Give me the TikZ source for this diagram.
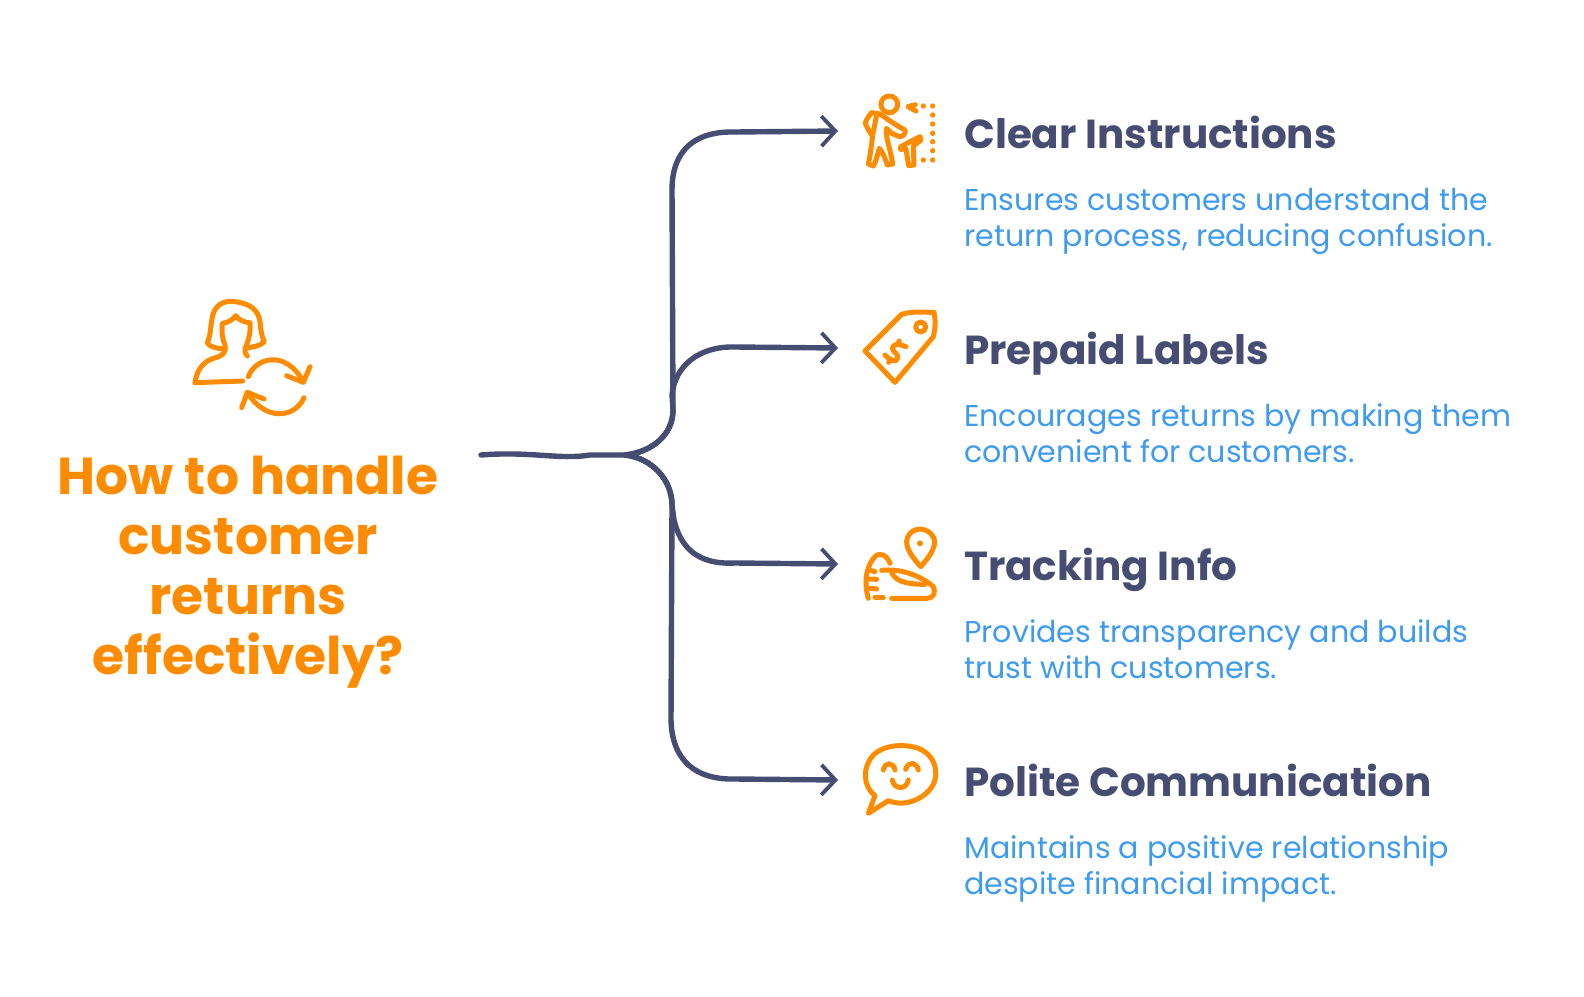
\documentclass[tikz,border=0pt]{standalone}
\usepackage{fontspec}
\setmainfont{Poppins}
\usetikzlibrary{positioning,arrows.meta}
\definecolor{roast}{HTML}{FF8C00}
\definecolor{ink}{HTML}{474C72}
\definecolor{sky}{HTML}{3F9BF0}
\tikzset{
    flow/.style={draw=ink, line width=5.4pt, line cap=round, -{Straight Barb[length=14pt,width=30pt,line width=3.8pt]}},
    icon/.style={draw=roast, line width=5pt, line cap=round, line join=round},
    dots/.style={fill=roast, draw=none},
    title/.style={text=roast, font=\fontsize{52}{60}\selectfont\bfseries, align=center},
    headline/.style={text=ink, font=\fontsize{40.5}{44}\selectfont\bfseries, anchor=base west, inner sep=0pt},
    details/.style={text=sky, font=\fontsize{30.1}{36}\selectfont, align=left, inner sep=0pt},
}
\begin{document}
\begin{tikzpicture}[x=1pt, y=-1pt]
\useasboundingbox (0,0) rectangle (1584,996);

\node[title] (question) at (248,572) {How to handle\\customer\\returns\\effectively?};

\node[headline] (clear) at (964,148) {Clear Instructions};
\node[details, below=98pt of clear.base west, anchor=base west] (cleartext) {Ensures customers understand the\\return process, reducing confusion.};
\node[headline] (prepaid) at (964,364) {Prepaid Labels};
\node[details, below=98pt of prepaid.base west, anchor=base west] (prepaidtext) {Encourages returns by making them\\convenient for customers.};
\node[headline] (tracking) at (964,580) {Tracking Info};
\node[details, below=98pt of tracking.base west, anchor=base west] (trackingtext) {Provides transparency and builds\\trust with customers.};
\node[headline] (polite) at (964,796) {Polite Communication};
\node[details, below=98pt of polite.base west, anchor=base west] (politetext) {Maintains a positive relationship\\despite financial impact.};

\coordinate (root) at (481,455);
\coordinate (hub) at (625,455);
\coordinate (tipclear) at (838,131);
\coordinate (tipprepaid) at (838,348);
\coordinate (tiptracking) at (838,564);
\coordinate (tippolite) at (838,780);

\draw[flow] (root) .. controls (530,451) and (560,460) .. (590,455) -- (hub)
    .. controls (652,452) and (673,435) .. (673,410) -- (672,190)
    .. controls (672,150) and (695,131) .. (735,132) -- (tipclear);
\draw[flow] (hub) .. controls (652,452) and (673,435) .. (673,410) -- (672,395)
    .. controls (675,365) and (700,346) .. (735,347) -- (tipprepaid);
\draw[flow] (hub) .. controls (652,458) and (672,480) .. (672,505) -- (674,520)
    .. controls (680,545) and (695,565) .. (735,563) -- (tiptracking);
\draw[flow] (hub) .. controls (652,458) and (672,480) .. (672,505) -- (671,720)
    .. controls (672,760) and (695,780) .. (735,779) -- (tippolite);

% returns icon
\begin{scope}[shift={(170,280)}, x=0.3333pt, y=-0.3333pt]
\draw[icon] (162,207) .. controls (135,205) and (115,198) .. (112,188) .. controls (125,160) and (120,130) .. (130,100)
    .. controls (140,70) and (170,60) .. (195,65) .. controls (240,70) and (265,90) .. (270,125) .. controls (272,150) and (275,170) .. (283,185)
    .. controls (270,200) and (245,200) .. (228,205) .. controls (222,215) and (225,222) .. (232,228);
\draw[icon] (75,308) .. controls (80,270) and (100,245) .. (130,235) .. controls (160,228) and (170,215) .. (165,195)
    .. controls (155,170) and (155,150) .. (157,130) .. controls (175,128) and (190,118) .. (197,107)
    .. controls (205,120) and (225,128) .. (240,128) .. controls (243,155) and (235,185) .. (225,205);
\draw[icon] (75,308) -- (218,303);
\draw[icon] (235,290) .. controls (255,235) and (345,205) .. (400,305);
\draw[icon] (350,287) -- (400,307) -- (420,260);
\draw[icon] (402,353) .. controls (375,415) and (285,425) .. (232,337);
\draw[icon] (282,357) -- (232,337) -- (215,383);
\end{scope}

% hiker icon
\begin{scope}[shift={(840,80)}, x=0.3333pt, y=-0.3333pt]
\draw[icon] (148,73) circle[radius=25];
\draw[icon] (95,98) .. controls (85,110) and (78,120) .. (76,130) .. controls (82,145) and (88,155) .. (95,165);
\draw[icon] (95,98) -- (120,102) .. controls (140,115) and (165,135) .. (195,150) .. controls (198,160) and (190,170) .. (180,170)
    .. controls (165,165) and (150,160) .. (140,145) .. controls (135,170) and (150,200) .. (158,252) -- (142,255)
    .. controls (135,235) and (128,215) .. (118,205) .. controls (112,225) and (108,245) .. (100,258) -- (85,252)
    .. controls (92,220) and (95,190) .. (98,165) -- (110,105);
\draw[icon] (182,200) -- (240,170) -- (243,180) -- (220,198) -- (222,255) -- (206,257) -- (198,207) -- (182,208) -- cycle;
\draw[icon] (226,74) -- (204,80) -- (228,93);
\foreach \y in {78,105,132,160,185,212,240} \fill[dots] (278,\y) circle[radius=8];
\fill[dots] (250,78) circle[radius=8];
\fill[dots] (250,240) circle[radius=8];
\end{scope}

% price tag icon
\begin{scope}[shift={(840,295)}, x=0.3333pt, y=-0.3333pt]
\draw[icon] (75,168) -- (185,58) .. controls (215,48) and (250,52) .. (282,52) .. controls (288,80) and (285,105) .. (280,125)
    -- (165,262) -- cycle;
\draw[icon] (242,96) circle[radius=15];
\draw[icon] (198,155) .. controls (180,150) and (165,140) .. (157,160) .. controls (160,175) and (178,175) .. (172,192)
    .. controls (165,205) and (150,195) .. (135,180);
\draw[icon] (178,138) -- (172,148);
\draw[icon] (152,192) -- (146,202);
\end{scope}

% tracking icon
\begin{scope}[shift={(840,515)}, x=0.3333pt, y=-0.3333pt]
\draw[icon] (242,155) .. controls (225,135) and (198,105) .. (200,78) .. controls (205,50) and (225,42) .. (242,42)
    .. controls (265,45) and (285,60) .. (284,85) .. controls (280,110) and (260,135) .. (242,155) -- cycle;
\fill[dots] (240,85) circle[radius=9];
\draw[icon] (150,145) .. controls (140,120) and (120,110) .. (105,125) .. controls (80,150) and (70,200) .. (85,250);
\draw[icon] (88,165) -- (105,170);
\draw[icon] (88,192) -- (110,193);
\draw[icon] (90,220) -- (110,222);
\draw[icon] (105,247) -- (130,248);
\draw[icon] (125,166) .. controls (180,160) and (240,180) .. (280,215) .. controls (288,235) and (280,250) .. (260,250) -- (155,250);
\draw[icon] (155,172) .. controls (165,195) and (190,208) .. (255,208);
\end{scope}

% speech bubble icon
\begin{scope}[shift={(840,730)}, x=0.3333pt, y=-0.3333pt]
\draw[icon] (85,250) -- (105,197) .. controls (70,170) and (65,115) .. (100,75) .. controls (130,45) and (190,40) .. (235,55)
    .. controls (275,70) and (295,110) .. (285,150) .. controls (270,200) and (200,235) .. (145,212) -- cycle;
\draw[icon] (130,120) .. controls (135,95) and (160,95) .. (165,120);
\draw[icon] (197,118) .. controls (205,93) and (230,95) .. (235,120);
\draw[icon] (157,150) .. controls (162,180) and (200,180) .. (205,150);
\end{scope}
\end{tikzpicture}
\end{document}
